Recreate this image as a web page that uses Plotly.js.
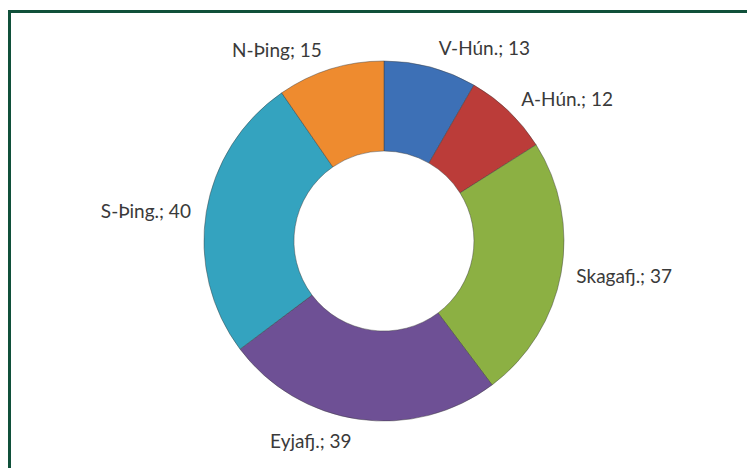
<!DOCTYPE html>
<html>
<head>
<meta charset="utf-8">
<script src="https://cdn.plot.ly/plotly-3.0.1.min.js"></script>
<style>
  html, body { margin: 0; padding: 0; background: #ffffff; overflow: hidden; }
  #frame { position: absolute; left: 8px; top: 10px; width: 800px; height: 520px;
           border-top: 3px solid #10503A; border-left: 3px solid #10503A; box-sizing: border-box; }
  #chart { position: absolute; left: 0; top: 0; width: 747px; height: 468px; }
</style>
</head>
<body>
<div id="frame"></div>
<div id="chart"></div>
<script>
const categories = ["V-Hún.", "A-Hún.", "Skagafj.", "Eyjafj.", "S-Þing.", "N-Þing"];
const values = [13, 12, 37, 39, 40, 15];
const colors = ["#3D70B6", "#BB3C39", "#8CB043", "#6E5095", "#34A3BF", "#EE8B2F"];

const labelFont = { family: "Lato, 'Open Sans', sans-serif", size: 19, color: "#3A3A3A" };

// the donut itself
const donut = {
  type: "pie",
  labels: categories,
  values: values,
  hole: 0.5,
  sort: false,
  direction: "clockwise",
  rotation: 0,
  marker: { colors: colors, line: { color: "rgba(60,60,60,0.45)", width: 1 } },
  textinfo: "none",
  automargin: false,
  showlegend: false,
  hoverinfo: "label+value",
  domain: { x: [0.273, 0.755], y: [0.100, 0.870] }
};

// same data on a slightly larger, transparent ring: carries the outside data labels
const labelRing = {
  type: "pie",
  labels: categories,
  values: values,
  hole: 0.95,
  sort: false,
  direction: "clockwise",
  rotation: 0,
  marker: { colors: categories.map(() => "rgba(0,0,0,0)"), line: { width: 0 } },
  texttemplate: "%{label}; %{value}",
  textposition: "outside",
  textfont: labelFont,
  outsidetextfont: labelFont,
  automargin: false,
  showlegend: false,
  hoverinfo: "skip",
  domain: { x: [0.260, 0.768], y: [0.079, 0.891] }
};

const layout = {
  width: 747, height: 468,
  margin: { l: 0, r: 0, t: 0, b: 0 },
  paper_bgcolor: "rgba(0,0,0,0)",
  plot_bgcolor: "rgba(0,0,0,0)",
  showlegend: false
};

Plotly.newPlot("chart", [donut, labelRing], layout, { displayModeBar: false, staticPlot: true });
</script>
</body>
</html>
